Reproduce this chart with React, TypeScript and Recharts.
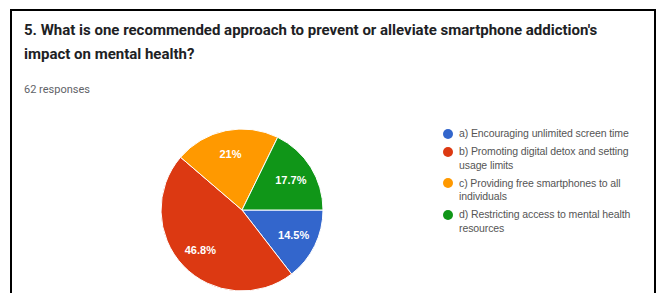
import { Cell, Pie, PieChart } from "recharts";

const options = [
  "a) Encouraging unlimited screen time",
  "b) Promoting digital detox and setting usage limits",
  "c) Providing free smartphones to all individuals",
  "d) Restricting access to mental health resources",
];
const counts = [9, 29, 13, 11];
const colors = ["#3366cc", "#dc3912", "#ff9900", "#109618"];
// legend line breaks as they wrap in the original
const legendLines = [
  ["a) Encouraging unlimited screen time"],
  ["b) Promoting digital detox and setting", "usage limits"],
  ["c) Providing free smartphones to all", "individuals"],
  ["d) Restricting access to mental health", "resources"],
];
const total = 62;

const RAD = Math.PI / 180;

function pctLabel(p: any) {
  const { cx, cy, midAngle, outerRadius, value } = p;
  const r = outerRadius * 0.71;
  const x = cx + r * Math.cos(-midAngle * RAD);
  const y = cy + r * Math.sin(-midAngle * RAD);
  const pct = ((value / total) * 100).toFixed(1).replace(/\.0$/, "");
  return (
    <text
      x={x}
      y={y}
      fill="#fff"
      fontSize={11}
      fontWeight={600}
      fontFamily="Arial, 'Liberation Sans', sans-serif"
      textAnchor="middle"
      dominantBaseline="central"
    >
      {pct}%
    </text>
  );
}

export default function App() {
  const data = options.map((name, i) => ({ name, value: counts[i], color: colors[i] }));

  return (
    <div
      style={{
        position: "fixed",
        left: 0,
        top: 0,
        width: 659,
        height: 293,
        overflow: "hidden",
        background: "#fff",
        fontFamily: "Roboto, Arial, sans-serif",
      }}
    >
      <div
        style={{
          position: "absolute",
          left: 10,
          top: 9,
          width: 642,
          height: 300,
          borderTop: "2px solid #000",
          borderLeft: "2px solid #000",
          borderRight: "2px solid #000",
        }}
      />
      <div
        style={{
          position: "absolute",
          left: 24,
          top: 18,
          width: 600,
          fontSize: 15,
          fontWeight: 700,
          lineHeight: "24px",
          color: "#202124",
        }}
      >
        5. What is one recommended approach to prevent or alleviate smartphone addiction's
        <br />
        impact on mental health?
      </div>
      <div
        style={{
          position: "absolute",
          left: 24,
          top: 83,
          fontSize: 11,
          color: "#5f6368",
        }}
      >
        {total} responses
      </div>

      <div style={{ position: "absolute", left: 0, top: 0 }}>
        <PieChart width={659} height={293} margin={{ top: 0, right: 0, bottom: 0, left: 0 }}>
          <Pie
            data={data}
            dataKey="value"
            nameKey="name"
            cx={242}
            cy={210}
            outerRadius={81}
            startAngle={0}
            endAngle={-360}
            stroke="#fff"
            strokeWidth={1}
            label={pctLabel}
            labelLine={false}
            isAnimationActive={false}
          >
            {data.map((d, i) => (
              <Cell key={i} fill={d.color} />
            ))}
          </Pie>
        </PieChart>
      </div>

      <div
        style={{
          position: "absolute",
          left: 443,
          top: 127,
          fontFamily: "Arial, 'Liberation Sans', sans-serif",
          fontSize: 10.5,
          letterSpacing: -0.1,
          color: "#555",
          lineHeight: "13.5px",
        }}
      >
        {legendLines.map((lines, i) => (
          <div key={i} style={{ display: "flex", alignItems: "flex-start", marginBottom: 4.5 }}>
            <span
              style={{
                width: 10,
                height: 10,
                borderRadius: 5,
                background: colors[i],
                marginTop: 1.75,
                marginRight: 6,
                flexShrink: 0,
              }}
            />
            <span>
              {lines.map((l, j) => (
                <div key={j}>{l}</div>
              ))}
            </span>
          </div>
        ))}
      </div>
    </div>
  );
}
